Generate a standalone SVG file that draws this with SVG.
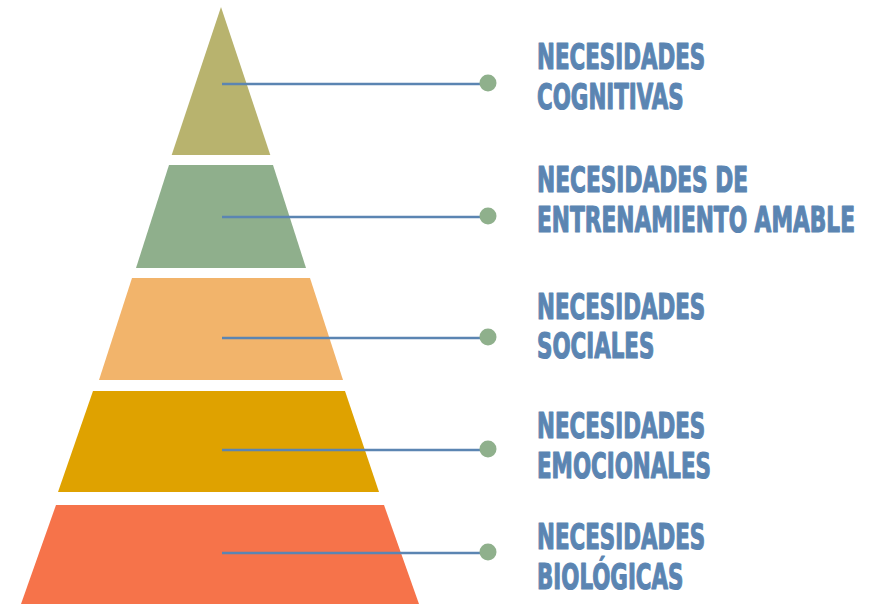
<svg xmlns="http://www.w3.org/2000/svg" width="884" height="605" viewBox="0 0 884 605">
<style>
.lbl{font-family:"DejaVu Sans Condensed","DejaVu Sans",sans-serif;font-weight:bold;font-size:36px;fill:#5b85b2;stroke:#5b85b2;stroke-width:1.2;stroke-linejoin:round}
.conn line{stroke:#5b85b2;stroke-width:2.5}
.conn circle{fill:#8fb08c}
</style>
<rect width="884" height="605" fill="#ffffff"/>
<g id="level1"><polygon points="221,7 270.3,155 171.7,155" fill="#b8b36e"/></g>
<g id="level2"><polygon points="169,165 273,165 306,268 136,268" fill="#8faf8c"/></g>
<g id="level3"><polygon points="132,278 310,278 343,380 99,380" fill="#f2b46b"/></g>
<g id="level4"><polygon points="93,391 345,391 379,492 58,492" fill="#dfa200"/></g>
<g id="level5"><polygon points="56,505 384,505 419,604 21,604" fill="#f6734a"/></g>
<g id="connectors" class="conn">
<line x1="222" y1="84" x2="488" y2="84"/><circle cx="488" cy="83" r="8.5"/>
<line x1="222" y1="217" x2="488" y2="217"/><circle cx="488" cy="216" r="8.5"/>
<line x1="222" y1="338" x2="488" y2="338"/><circle cx="488" cy="337" r="8.5"/>
<line x1="222" y1="450" x2="488" y2="450"/><circle cx="488" cy="449" r="8.5"/>
<line x1="222" y1="553" x2="488" y2="553"/><circle cx="488" cy="552" r="8.5"/>
</g>
<g id="label1" class="lbl" transform="translate(537 0) scale(0.66 1)">
<text x="0" y="69">NECESIDADES</text>
<text x="0" y="109">COGNITIVAS</text>
</g>
<g id="label2" class="lbl" transform="translate(537 0) scale(0.67 1)">
<text x="0" y="192">NECESIDADES DE</text>
<text x="0" y="232">ENTRENAMIENTO AMABLE</text>
</g>
<g id="label3" class="lbl" transform="translate(537 0) scale(0.66 1)">
<text x="0" y="319">NECESIDADES</text>
<text x="0" y="358">SOCIALES</text>
</g>
<g id="label4" class="lbl" transform="translate(537 0) scale(0.66 1)">
<text x="0" y="438">NECESIDADES</text>
<text x="0" y="478">EMOCIONALES</text>
</g>
<g id="label5" class="lbl" transform="translate(537 0) scale(0.66 1)">
<text x="0" y="549">NECESIDADES</text>
<text x="0" y="589">BIOLÓGICAS</text>
</g>
</svg>
